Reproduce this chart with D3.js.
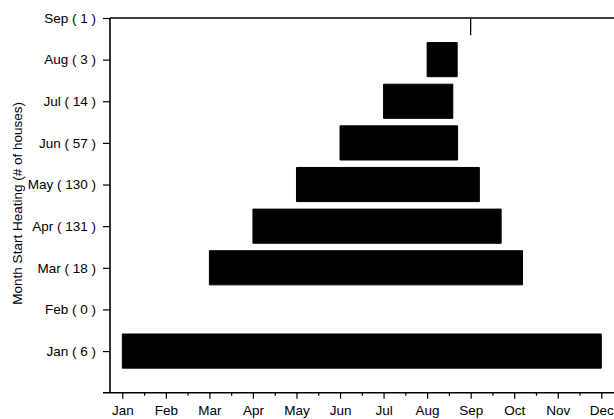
<!DOCTYPE html>
<html>
<head>
<meta charset="utf-8">
<script src="https://cdn.jsdelivr.net/npm/d3@7"></script>
<style>
  html, body { margin: 0; padding: 0; background: #fff; }
  svg { display: block; }
  text { font-family: "Liberation Sans", Arial, Helvetica, sans-serif; fill: #000; }
</style>
</head>
<body>
<svg id="chart" width="614" height="419"></svg>
<script>
// Month a household starts heating, with the number of houses in each group
const startMonths = ["Jan", "Feb", "Mar", "Apr", "May", "Jun", "Jul", "Aug", "Sep"];
const houseCounts = [6, 0, 18, 131, 130, 57, 14, 3, 1];
// Bar extent along the calendar axis (1 = Jan ... 12 = Dec); Feb has no houses
const barStart = [1, null, 3, 4, 5, 6, 7, 8, 9];
const barEnd   = [12, null, 10.19, 9.70, 9.20, 8.70, 8.59, 8.69, 9.0];
// Bottom axis labels
const monthLabels = ["Jan", "Feb", "Mar", "Apr", "May", "Jun", "Jul", "Aug", "Sep", "Oct", "Nov", "Dec"];

const FONT = "13.5px";
const plot = { left: 110, right: 614, top: 18, bottom: 392.7 };

const svg = d3.select("#chart");

const x = d3.scaleLinear().domain([1, 12]).range([122.3, 601.3]);
const y = d3.scaleLinear().domain([0, 9]).range([plot.bottom, plot.top]);
const step = y(0) - y(1);
const barH = step * 0.82;

const rows = startMonths.map((m, i) => ({
  label: `${m} ( ${houseCounts[i]} )`,
  pos: i + 1,
  start: barStart[i],
  end: barEnd[i]
}));

// clip bars to the plot frame
svg.append("clipPath").attr("id", "plotClip")
  .append("rect")
  .attr("x", plot.left).attr("y", plot.top)
  .attr("width", plot.right - plot.left).attr("height", plot.bottom - plot.top);

// bars as closed paths so a zero-length span still shows as a stroke
function barPath(d) {
  const p = d3.path();
  p.rect(x(d.start), y(d.pos) - barH / 2, x(d.end) - x(d.start), barH);
  return p.toString();
}

svg.append("g").attr("clip-path", "url(#plotClip)")
  .selectAll("path")
  .data(rows.filter(d => d.start !== null))
  .join("path")
  .attr("d", barPath)
  .attr("fill", "#000")
  .attr("stroke", "#000")
  .attr("stroke-width", 1);

// left axis
const yAxis = d3.axisLeft(y)
  .tickValues(rows.map(d => d.pos))
  .tickFormat((d, i) => rows[i].label)
  .tickSize(7)
  .tickPadding(7)
  .tickSizeOuter(0);
const gy = svg.append("g").attr("transform", `translate(${plot.left},0)`).call(yAxis);
gy.select(".domain").remove();
gy.selectAll(".tick line").attr("stroke", "#000").attr("stroke-width", 1.2);
gy.selectAll("text").style("font-size", FONT).attr("fill", "#000");

// bottom axis: month ticks with half-month minor ticks
const xAxis = d3.axisBottom(x)
  .tickValues(d3.range(1, 13))
  .tickFormat((d, i) => monthLabels[i])
  .tickSize(6)
  .tickPadding(7)
  .tickSizeOuter(0);
const gx = svg.append("g").attr("transform", `translate(0,${plot.bottom})`).call(xAxis);
gx.select(".domain").remove();
gx.selectAll(".tick line").attr("stroke", "#000").attr("stroke-width", 1.2);
gx.selectAll("text").style("font-size", FONT).attr("fill", "#000");

const xMinor = d3.axisBottom(x)
  .tickValues(d3.range(1.5, 12.5, 1))
  .tickFormat("")
  .tickSize(3)
  .tickSizeOuter(0);
const gxm = svg.append("g").attr("transform", `translate(0,${plot.bottom})`).call(xMinor);
gxm.select(".domain").remove();
gxm.selectAll(".tick line").attr("stroke", "#000").attr("stroke-width", 1.2);

// frame lines
const frame = svg.append("g").attr("stroke", "#000").attr("stroke-width", 1.6).attr("fill", "none");
frame.append("line").attr("x1", plot.left).attr("x2", plot.left).attr("y1", plot.top).attr("y2", plot.bottom);
frame.append("line").attr("x1", plot.left - 7).attr("x2", plot.right).attr("y1", plot.bottom).attr("y2", plot.bottom);
frame.append("line").attr("x1", plot.left).attr("x2", plot.right).attr("y1", plot.top).attr("y2", plot.top);

// y axis title
svg.append("text")
  .attr("transform", `translate(22,${(plot.top + plot.bottom) / 2 - 2}) rotate(-90)`)
  .attr("text-anchor", "middle")
  .style("font-size", FONT)
  .text("Month Start Heating (# of houses)");
</script>
</body>
</html>
